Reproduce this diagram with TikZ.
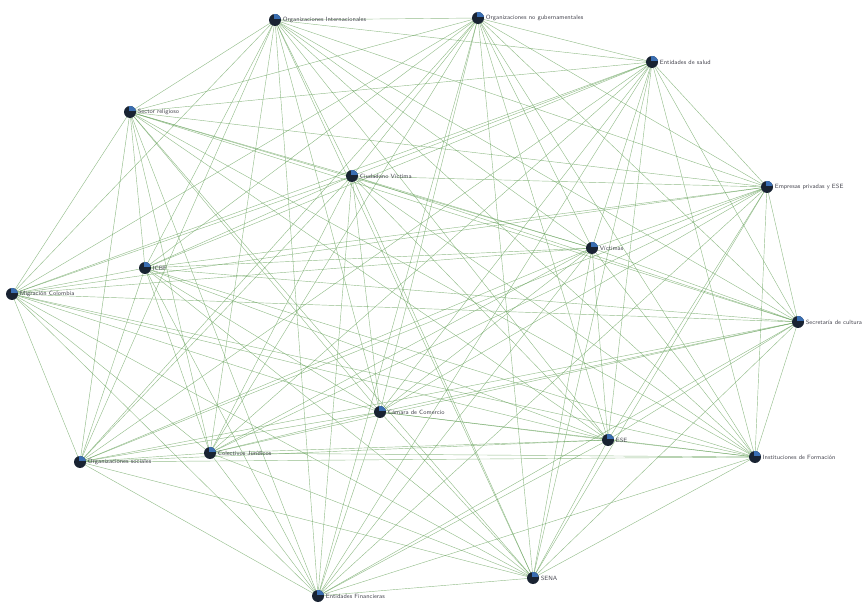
\documentclass[tikz,border=0pt]{standalone}
\usetikzlibrary{backgrounds}
\definecolor{edgegreen}{RGB}{100,160,88}
\definecolor{iconblue}{RGB}{58,110,178}
\definecolor{icondark}{RGB}{25,35,50}
\definecolor{labelgrey}{RGB}{70,70,80}
\tikzset{
  actor/.style={circle,fill=icondark,inner sep=0pt,minimum size=9pt,
    path picture={\fill[iconblue] ([xshift=-1pt,yshift=0.5pt]path picture bounding box.center) rectangle ([xshift=4.5pt,yshift=4.5pt]path picture bounding box.center);}},
  lbl/.style={anchor=west,inner sep=1pt,text=labelgrey,font=\fontsize{4.6}{5}\selectfont\sffamily},
  link/.style={draw=edgegreen,line width=0.32pt,opacity=0.7}
}
\begin{document}
\begin{tikzpicture}[x=0.75pt,y=-0.75pt]
\useasboundingbox (0,0) rectangle (865,606);
\node[actor] (oi) at (275,20) {};
\node[actor] (ong) at (478,18) {};
\node[actor] (sal) at (652,62) {};
\node[actor] (rel) at (130,112) {};
\node[actor] (cv) at (352,176) {};
\node[actor] (emp) at (767,187) {};
\node[actor] (vic) at (592,248) {};
\node[actor] (icb) at (145,268) {};
\node[actor] (mig) at (12,294) {};
\node[actor] (sec) at (798,322) {};
\node[actor] (cam) at (380,412) {};
\node[actor] (col) at (210,453) {};
\node[actor] (sen) at (608,440) {};
\node[actor] (ins) at (755,457) {};
\node[actor] (org) at (80,462) {};
\node[actor] (fin) at (318,596) {};
\node[actor] (ban) at (533,578) {};
\node[lbl] (loi) at (oi.east) {Organizaciones Internacionales};
\node[lbl] (long) at (ong.east) {Organizaciones no gubernamentales};
\node[lbl] (lsal) at (sal.east) {Entidades de salud};
\node[lbl] (lrel) at (rel.east) {Sector religioso};
\node[lbl] (lcv) at (cv.east) {Ciudadano Víctima};
\node[lbl] (lemp) at (emp.east) {Empresas privadas y ESE};
\node[lbl] (lvic) at (vic.east) {Víctimas};
\node[lbl] (licb) at (icb.east) {ICBF};
\node[lbl] (lmig) at (mig.east) {Migración Colombia};
\node[lbl] (lsec) at (sec.east) {Secretaría de cultura};
\node[lbl] (lcam) at (cam.east) {Cámara de Comercio};
\node[lbl] (lcol) at (col.east) {Colectivos Jurídicos};
\node[lbl] (lsen) at (sen.east) {ESE};
\node[lbl] (lins) at (ins.east) {Instituciones de Formación};
\node[lbl] (lorg) at (org.east) {Organizaciones sociales};
\node[lbl] (lfin) at (fin.east) {Entidades Financieras};
\node[lbl] (lban) at (ban.east) {SENA};
\begin{pgfonlayer}{background}
\foreach \a [count=\i] in {oi,ong,sal,rel,cv,emp,vic,icb,mig,sec,cam,col,sen,ins,org,fin,ban}{
  \foreach \b [count=\j] in {oi,ong,sal,rel,cv,emp,vic,icb,mig,sec,cam,col,sen,ins,org,fin,ban}{
    \ifnum\j>\i \draw[link] (\a.center) -- (\b.center); \fi
  }
}
\end{pgfonlayer}
\end{tikzpicture}
\end{document}
